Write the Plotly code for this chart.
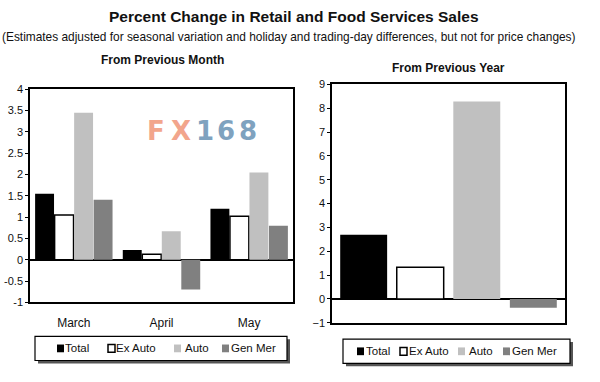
import plotly.graph_objects as go

# ---------------- data ----------------
months = ["March", "April", "May"]
series = ["Total", "Ex Auto", "Auto", "Gen Mer"]
month_total = [1.55, 0.23, 1.2]
month_ex_auto = [1.05, 0.13, 1.02]
month_auto = [3.45, 0.67, 2.05]
month_gen_mer = [1.41, -0.7, 0.8]
year_values = [2.69, 1.33, 8.29, -0.37]
left_ticks = [-1, -0.5, 0, 0.5, 1, 1.5, 2, 2.5, 3, 3.5, 4]
right_ticks = [-1, 0, 1, 2, 3, 4, 5, 6, 7, 8, 9]

# ---------------- styles ----------------
fills = {"Total": "#000000", "Ex Auto": "#ffffff", "Auto": "#c0c0c0", "Gen Mer": "#808080"}
outline = {"Total": 0, "Ex Auto": 1.5, "Auto": 0, "Gen Mer": 0}
W, H = 600, 382
SANS = "Liberation Sans, Arial, sans-serif"

def px(x):
    return x / W

def py(y):
    return 1 - y / H

fig = go.Figure()

month_values = [month_total, month_ex_auto, month_auto, month_gen_mer]
for name, vals in zip(series, month_values):
    fig.add_trace(go.Bar(
        x=months, y=vals, name=name, showlegend=False,
        marker=dict(color=fills[name], line=dict(color="#000000", width=outline[name])),
        xaxis="x", yaxis="y",
    ))

fig.add_trace(go.Bar(
    x=series, y=year_values, showlegend=False, width=0.83,
    marker=dict(color=[fills[s] for s in series],
                line=dict(color="#000000", width=[outline[s] for s in series])),
    xaxis="x2", yaxis="y2",
))

axis_common = dict(showline=True, linecolor="#000000", linewidth=1.5, mirror=True,
                   showgrid=False)
tickfont = dict(family=SANS, size=11, color="#111")
fig.update_layout(
    width=W, height=H, margin=dict(l=0, r=0, t=0, b=0),
    paper_bgcolor="white", plot_bgcolor="white",
    barmode="group", bargap=0.11, bargroupgap=0.03,
    xaxis=dict(domain=[px(30), px(293)], anchor="y", ticks="", showticklabels=True,
               ticklabelstandoff=8,
               tickfont=dict(family=SANS, size=12, color="#111"), **axis_common),
    yaxis=dict(domain=[py(306), py(86)], anchor="x", range=[-1, 4], tickvals=left_ticks,
               ticktext=[f"{t:g}" for t in left_ticks], ticks="outside", ticklen=3,
               tickcolor="#000", tickfont=tickfont,
               zeroline=True, zerolinecolor="#000000", zerolinewidth=1.5, **axis_common),
    xaxis2=dict(domain=[px(332), px(565)], anchor="y2", showticklabels=False, ticks="",
                range=[-0.56, 3.56], **axis_common),
    yaxis2=dict(domain=[py(327), py(81)], anchor="x2", range=[-1, 9], tickvals=right_ticks,
                ticks="outside", ticklen=3, tickcolor="#000", tickfont=tickfont,
                zeroline=True, zerolinecolor="#000000", zerolinewidth=1.5, **axis_common),
)

def text_ann(text, x, y, size, xanchor="center", family=SANS, color="#111"):
    return dict(text=text, x=px(x), y=py(y), xref="paper", yref="paper", showarrow=False,
                xanchor=xanchor, yanchor="middle", font=dict(family=family, size=size, color=color))

ann = [
    text_ann("<b>Percent Change in Retail and Food Services Sales</b>", 294, 11, 15.5),
    text_ann("(Estimates adjusted for seasonal variation and holiday and trading-day differences, but not for price changes)",
             289, 32, 11.9),
    text_ann("<b>From Previous Month</b>", 162, 56, 12),
    text_ann("<b>From Previous Year</b>", 448, 64, 12),
]
# watermark, one glyph at a time to mimic the wide logo face
for ch, cx, col in zip("FX168", [156, 181, 205, 226, 248],
                       ["#f2a58c", "#f2a58c", "#7fa2bf", "#7fa2bf", "#7fa2bf"]):
    ann.append(text_ann(f"<b>{ch}</b>", cx, 129, 26, family="DejaVu Sans, Verdana", color=col))

shapes = []
# legends (boxes with shadows)
legend_boxes = [(35, 341, 287, 366), (343, 344, 570, 369)]
legend_items = [
    [(57, 63), (108, 114), (174, 183), (222, 229)],
    [(357, 364), (400, 407), (458, 467), (503, 510)],
]
for (x0, y0, x1, y1), items in zip(legend_boxes, legend_items):
    ly = (y0 + y1) / 2
    shapes.append(dict(type="rect", xref="paper", yref="paper", x0=px(x0 + 3), x1=px(x1 + 3),
                       y0=py(y1 + 3), y1=py(y0 + 3), fillcolor="#555555", line=dict(width=0),
                       layer="above"))
    shapes.append(dict(type="rect", xref="paper", yref="paper", x0=px(x0), x1=px(x1),
                       y0=py(y1), y1=py(y0), fillcolor="white", line=dict(color="#000", width=1.2),
                       layer="above"))
    for name, (sx, tx) in zip(series, items):
        shapes.append(dict(type="rect", xref="paper", yref="paper", x0=px(sx), x1=px(sx + 7),
                           y0=py(ly + 4), y1=py(ly - 4), fillcolor=fills[name],
                           line=dict(color="#000" if outline[name] else fills[name],
                                     width=1.5 if outline[name] else 0),
                           layer="above"))
        ann.append(text_ann(name, tx, ly, 11.5, xanchor="left"))

fig.update_layout(annotations=ann, shapes=shapes)
fig.write_html("out.html", config={"displayModeBar": False},
               post_script="document.body.style.margin='0';")
